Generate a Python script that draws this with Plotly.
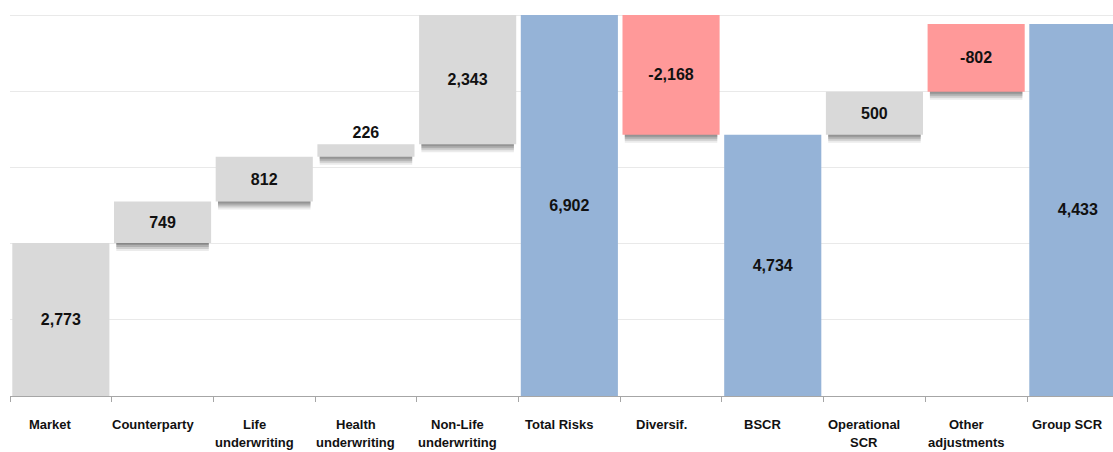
import plotly.graph_objects as go

# ---- data ----
cat_line1 = ["Market", "Counterparty", "Life", "Health", "Non-Life", "Total Risks",
             "Diversif.", "BSCR", "Operational", "Other", "Group SCR"]
cat_line2 = ["", "", "underwriting", "underwriting", "underwriting", "",
             "", "", "SCR", "adjustments", ""]
categories = [(a + " " + b).strip() for a, b in zip(cat_line1, cat_line2)]

# printed data labels
label_values = [2773, 749, 812, 226, 2343, 6902, -2168, 4734, 500, -802, 4433]
# bar extents as drawn in the picture (bottom / top)
bar_bottom = [0, 2773, 3522, 4334, 4560, 0, 4734, 0, 4734, 5513, 0]
bar_top = [2773, 3522, 4334, 4560, 6902, 6902, 6902, 4734, 5513, 6739, 6739]
bar_kind = ["up", "up", "up", "up", "up", "total", "down", "total", "up", "down", "total"]

colors = {"up": "#D9D9D9", "down": "#FF9999", "total": "#95B3D7"}
label_pos = ["inside", "inside", "inside", "outside", "inside", "inside",
             "inside", "inside", "inside", "inside", "inside"]

# ---- geometry / styling ----
W, H = 1113, 452
M_L, M_R, M_T, M_B = 10, 0, 5, 56
PX_PER_CAT = 101.7
plot_h = H - M_T - M_B
Y_MAX = 7083
px_per_unit = plot_h / Y_MAX
x_max = -0.5 + (W - M_L - M_R) / PX_PER_CAT

heights = [t - b for t, b in zip(bar_top, bar_bottom)]
fmt = lambda v: f"{v:,}"

fig = go.Figure()

# soft drop shadows under grey and red bars
shadow_idx = [i for i, k in enumerate(bar_kind) if k != "total"]
for off_px, alpha in [(2, 0.15), (4, 0.15), (6, 0.12), (8, 0.08)]:
    off = off_px / px_per_unit
    fig.add_trace(go.Bar(
        x=[categories[i] for i in shadow_idx],
        y=[heights[i] for i in shadow_idx],
        base=[bar_bottom[i] - off for i in shadow_idx],
        width=0.91,
        marker=dict(color=f"rgba(0,0,0,{alpha})", line=dict(width=0)),
        hoverinfo="skip", showlegend=False,
    ))

fig.add_trace(go.Bar(
    x=categories,
    y=heights,
    base=bar_bottom,
    width=0.955,
    marker=dict(color=[colors[k] for k in bar_kind], line=dict(width=0)),
    text=[fmt(v) for v in label_values],
    textposition=label_pos,
    insidetextanchor="middle",
    constraintext="none",
    textfont=dict(family="Liberation Sans", size=16, color="#111111", weight="bold"),
    showlegend=False,
))

# category labels (two lines)
for c, l1, l2 in zip(categories, cat_line1, cat_line2):
    fig.add_annotation(x=c, y=0, xref="x", yref="paper", text=l1, showarrow=False,
                       yanchor="middle", yshift=-28, xshift=-10,
                       font=dict(family="Liberation Sans", size=13, color="#111111", weight="bold"))
    if l2:
        fig.add_annotation(x=c, y=0, xref="x", yref="paper", text=l2, showarrow=False,
                           yanchor="middle", yshift=-46, xshift=-10,
                           font=dict(family="Liberation Sans", size=13, color="#111111", weight="bold"))

fig.update_layout(
    width=W, height=H,
    margin=dict(l=M_L, r=M_R, t=M_T, b=M_B, pad=0),
    barmode="overlay",
    plot_bgcolor="white", paper_bgcolor="white",
    xaxis=dict(
        type="category", categoryorder="array", categoryarray=categories,
        range=[-0.5, x_max],
        showline=True, linecolor="#A6A6A6", linewidth=1,
        ticks="outside", tickson="boundaries", ticklen=5, tickcolor="#A6A6A6",
        showticklabels=False, showgrid=False, zeroline=False,
    ),
    yaxis=dict(
        range=[0, Y_MAX], dtick=1380, tick0=0,
        showgrid=True, gridcolor="#E9E9E9", gridwidth=1,
        showticklabels=False, zeroline=False, showline=False, ticks="",
    ),
)

fig.write_html("out.html")
